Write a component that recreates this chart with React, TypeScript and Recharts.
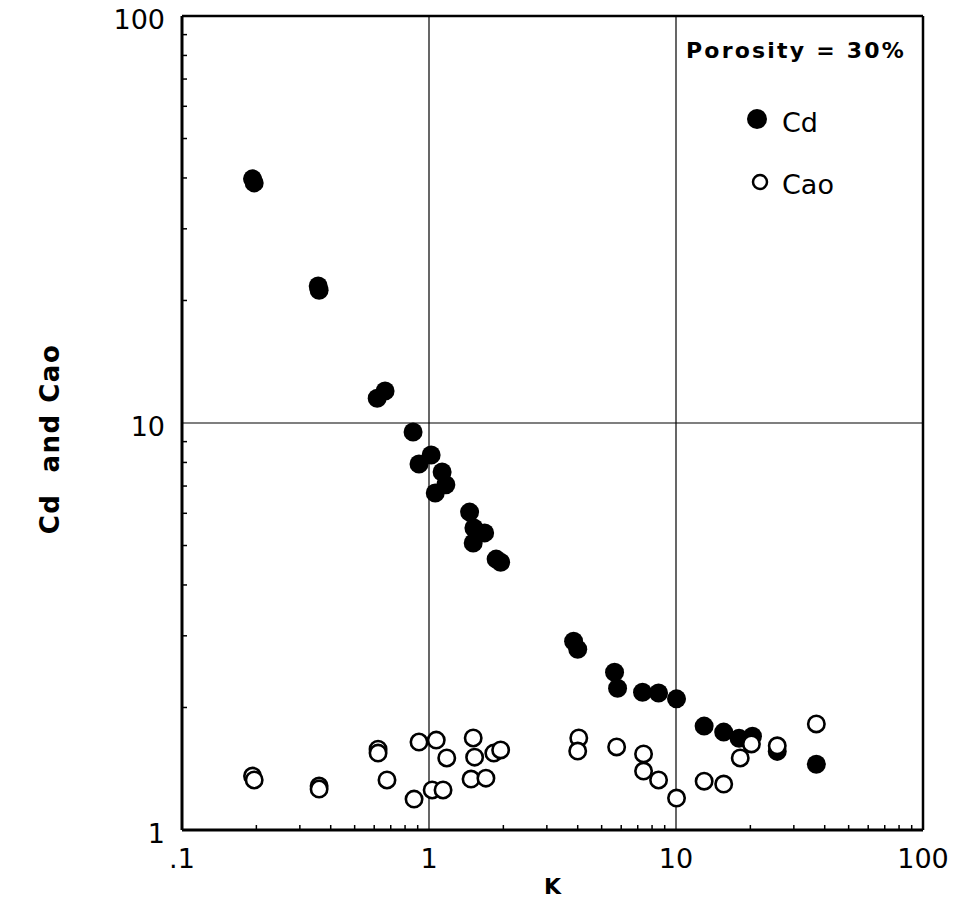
import React from "react";
import {
  Label,
  Legend,
  ReferenceLine,
  Scatter,
  ScatterChart,
  XAxis,
  YAxis,
} from "recharts";

const cdK = [
  0.193, 0.196, 0.356, 0.359, 0.617, 0.664, 0.862, 0.911, 1.02, 1.13, 1.17,
  1.06, 1.46, 1.52, 1.68, 1.51, 1.87, 1.95, 3.85, 4.0, 5.64, 5.8, 7.32, 8.5,
  10.05, 13.0, 15.6, 18.0, 20.4, 25.7, 37.0,
];
const cdVal = [
  39.8, 38.9, 21.7, 21.2, 11.5, 11.98, 9.5, 7.93, 8.34, 7.58, 7.05, 6.73, 6.04,
  5.52, 5.37, 5.07, 4.63, 4.55, 2.91, 2.78, 2.44, 2.23, 2.18, 2.17, 2.1, 1.8,
  1.74, 1.68, 1.7, 1.56, 1.45,
];

const caoK = [
  0.193, 0.196, 0.359, 0.359, 0.622, 0.622, 0.676, 0.911, 1.07, 1.18, 1.51,
  1.53, 1.83, 1.95, 1.48, 1.7, 0.87, 1.03, 1.14, 4.04, 4.0, 5.75, 7.39, 7.39,
  8.5, 10.05, 13.0, 15.6, 18.2, 20.2, 25.7, 37.0,
];
const caoVal = [
  1.357, 1.327, 1.282, 1.261, 1.58, 1.545, 1.327, 1.645, 1.663, 1.503, 1.683,
  1.51, 1.545, 1.573, 1.334, 1.341, 1.191, 1.254, 1.254, 1.683, 1.563, 1.6,
  1.538, 1.396, 1.327, 1.198, 1.318, 1.297, 1.503, 1.627, 1.61, 1.822,
];

const xMajor = [0.1, 1, 10, 100];
const xMinor = [
  0.2, 0.3, 0.4, 0.5, 0.6, 0.7, 0.8, 0.9, 2, 3, 4, 5, 6, 7, 8, 9, 20, 30, 40,
  50, 60, 70, 80, 90,
];
const yMajor = [1, 10, 100];
const yMinor = [2, 3, 4, 5, 6, 7, 8, 9, 20, 30, 40, 50, 60, 70, 80, 90];

const cdData = cdK.map((k, i) => ({ k, c: cdVal[i] }));
const caoData = caoK.map((k, i) => ({ k, c: caoVal[i] }));

const FONT = "'DejaVu Sans', Verdana, sans-serif";

const fmtX = (v: number) => (v === 0.1 ? ".1" : String(v));

const XTick = (props: any) => {
  const { x, y, payload } = props;
  const v = payload.value;
  if (xMajor.includes(v)) {
    return (
      <text
        x={x}
        y={y + 28}
        textAnchor="middle"
        dominantBaseline="central"
        fontFamily={FONT}
        fontSize={27}
        fill="#000"
      >
        {fmtX(v)}
      </text>
    );
  }
  return <line x1={x} x2={x} y1={y} y2={y - 5} stroke="#000" strokeWidth={1.5} />;
};

const YTick = (props: any) => {
  const { x, y, payload } = props;
  const v = payload.value;
  if (yMajor.includes(v)) {
    return (
      <text
        x={x - 17}
        y={y + 3}
        textAnchor="end"
        dominantBaseline="central"
        fontFamily={FONT}
        fontSize={27}
        fill="#000"
      >
        {v}
      </text>
    );
  }
  return <line x1={x} x2={x + 5} y1={y} y2={y} stroke="#000" strokeWidth={1.5} />;
};

const FilledDot = (props: any) => (
  <circle cx={props.cx} cy={props.cy} r={9.5} fill="#000" />
);

const OpenDot = (props: any) => (
  <circle
    cx={props.cx}
    cy={props.cy}
    r={8.2}
    fill="#fff"
    stroke="#000"
    strokeWidth={2.6}
  />
);

const LegendBox = () => (
  <svg width={260} height={180} style={{ display: "block" }}>
    <text
      x={0}
      y={22}
      fontFamily={FONT}
      fontSize={22}
      fontWeight="bold"
      letterSpacing={2.2}
      fill="#000"
      dominantBaseline="central"
    >
      Porosity = 30%
    </text>
    <circle cx={71} cy={91} r={10} fill="#000" />
    <text x={96} y={94} fontFamily={FONT} fontSize={27} dominantBaseline="central">
      Cd
    </text>
    <circle cx={74} cy={154} r={7} fill="#fff" stroke="#000" strokeWidth={2.5} />
    <text x={96} y={156} fontFamily={FONT} fontSize={27} dominantBaseline="central">
      Cao
    </text>
  </svg>
);

const YTitle = (props: any) => {
  const { viewBox } = props;
  const cx = viewBox.x + 50;
  const cy = viewBox.y + viewBox.height / 2 + 16;
  return (
    <text
      x={cx}
      y={cy}
      transform={`rotate(-90 ${cx} ${cy})`}
      textAnchor="middle"
      dominantBaseline="central"
      fontFamily={FONT}
      fontSize={26}
      fontWeight="bold"
      letterSpacing={1.5}
      fill="#000"
      style={{ whiteSpace: "pre" }}
    >
      Cd  and Cao
    </text>
  );
};

const XTitle = (props: any) => {
  const { viewBox } = props;
  const cx = viewBox.x + viewBox.width / 2;
  return (
    <text
      x={cx}
      y={viewBox.y + 56}
      textAnchor="middle"
      dominantBaseline="central"
      fontFamily={FONT}
      fontSize={22}
      fontWeight="bold"
      fill="#000"
    >
      K
    </text>
  );
};

export default function App() {
  return (
    <div style={{ position: "absolute", left: 0, top: 0, background: "#fff" }}>
      <ScatterChart
        width={955}
        height={902}
        margin={{ top: 16, right: 32, bottom: 0, left: 0 }}
      >
        <XAxis
          dataKey="k"
          type="number"
          scale="log"
          domain={[0.1, 100]}
          ticks={[...xMajor, ...xMinor]}
          interval={0}
          allowDataOverflow
          height={72}
          tickSize={0}
          tickMargin={0}
          tickLine={false}
          tick={<XTick />}
          axisLine={{ stroke: "#000", strokeWidth: 3 }}
        >
          <Label content={<XTitle />} />
        </XAxis>
        <YAxis
          dataKey="c"
          type="number"
          scale="log"
          domain={[1, 100]}
          ticks={[...yMajor, ...yMinor]}
          interval={0}
          allowDataOverflow
          width={182}
          tickSize={0}
          tickMargin={0}
          tickLine={false}
          tick={<YTick />}
          axisLine={{ stroke: "#000", strokeWidth: 3 }}
        >
          <Label content={<YTitle />} />
        </YAxis>
        <ReferenceLine x={1} stroke="#000" strokeWidth={1.2} />
        <ReferenceLine x={10} stroke="#000" strokeWidth={1.2} />
        <ReferenceLine y={10} stroke="#000" strokeWidth={1.2} />
        <ReferenceLine y={100} stroke="#000" strokeWidth={2.5} />
        <ReferenceLine x={100} stroke="#000" strokeWidth={2.5} />
        <Legend
          layout="vertical"
          align="center"
          verticalAlign="middle"
          content={<LegendBox />}
          wrapperStyle={{ left: 686, top: 28, width: 260, height: 180 }}
        />
        <Scatter
          name="Cd"
          data={cdData}
          shape={<FilledDot />}
          isAnimationActive={false}
        />
        <Scatter
          name="Cao"
          data={caoData}
          shape={<OpenDot />}
          isAnimationActive={false}
        />
      </ScatterChart>
    </div>
  );
}
